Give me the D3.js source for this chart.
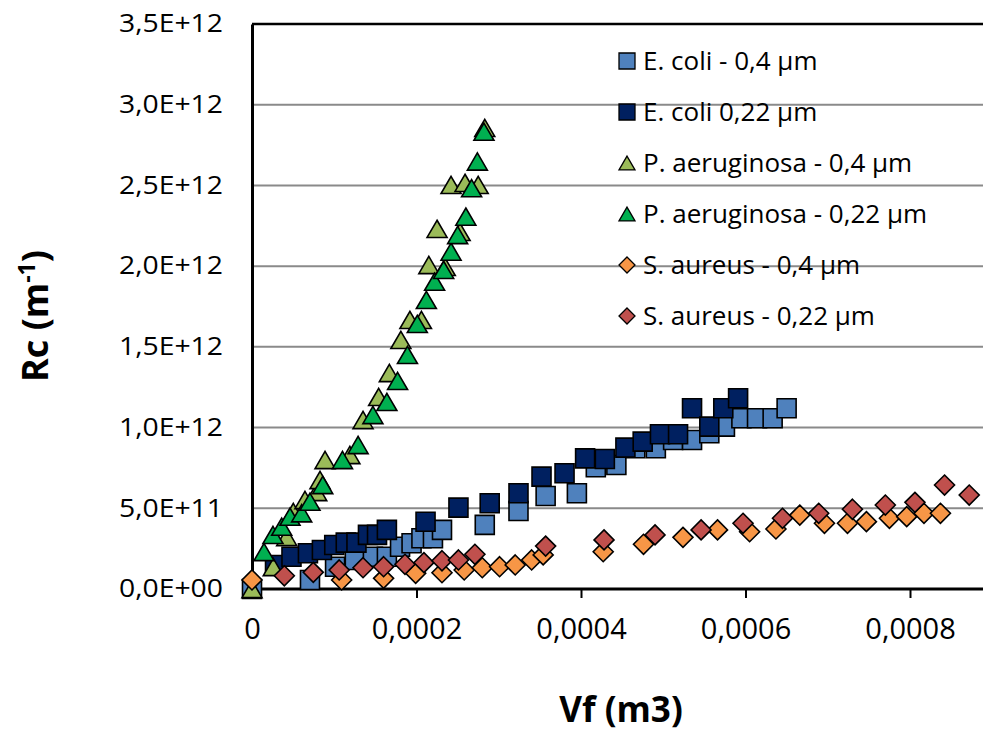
<!DOCTYPE html>
<html><head><meta charset="utf-8">
<script src="https://cdn.jsdelivr.net/npm/d3@7"></script>
<style>body{margin:0;background:#fff}svg{display:block}text{font-family:"Open Sans",sans-serif;fill:#000}</style>
</head><body><svg id="c" width="983" height="735"></svg>
<script>
// ---------- DATA ----------
const seriesNames = ["E. coli - 0,4 µm","E. coli 0,22 µm","P. aeruginosa - 0,4 µm","P. aeruginosa - 0,22 µm","S. aureus - 0,4 µm","S. aureus - 0,22 µm"];
const xTickValues = [0,0.0002,0.0004,0.0006,0.0008];
const xTickLabels = ["0","0,0002","0,0004","0,0006","0,0008"];
const yTickValues = [0,0.5e12,1.0e12,1.5e12,2.0e12,2.5e12,3.0e12,3.5e12];
const yTickLabels = ["0,0E+00","5,0E+11","1,0E+12","1,5E+12","2,0E+12","2,5E+12","3,0E+12","3,5E+12"];

const ecoli04Vf = [0,0.0000705,0.000101,0.000125,0.000147,0.000164,0.000180,0.000194,0.000206,0.000220,0.000231,0.000283,0.000324,0.000357,0.000395,0.000418,0.000443,0.000466,0.000491,0.000512,0.000535,0.000556,0.000575,0.000595,0.000614,0.000633,0.000650];
const ecoli04Rc = [0,0.056e12,0.138e12,0.180e12,0.200e12,0.200e12,0.262e12,0.283e12,0.314e12,0.314e12,0.366e12,0.397e12,0.483e12,0.576e12,0.593e12,0.754e12,0.768e12,0.872e12,0.872e12,0.923e12,0.923e12,0.965e12,1.006e12,1.058e12,1.058e12,1.058e12,1.120e12];

const ecoli022Vf = [0.000028,0.000048,0.000068,0.000085,0.000100,0.000114,0.000127,0.000141,0.000152,0.000164,0.000211,0.000251,0.000289,0.000324,0.000352,0.000380,0.000405,0.000429,0.000454,0.000475,0.000496,0.000518,0.000535,0.000556,0.000573,0.000591];
const ecoli022Rc = [0.149e12,0.200e12,0.221e12,0.242e12,0.273e12,0.287e12,0.287e12,0.335e12,0.335e12,0.366e12,0.417e12,0.504e12,0.531e12,0.593e12,0.696e12,0.717e12,0.809e12,0.805e12,0.876e12,0.913e12,0.959e12,0.959e12,1.120e12,1.006e12,1.120e12,1.182e12];

const paer04Vf = [0,0.0000259,0.0000422,0.0000502,0.0000644,0.0000787,0.0000827,0.0000888,0.000119,0.000135,0.000154,0.000167,0.000181,0.000192,0.000206,0.000215,0.000225,0.000235,0.000242,0.000253,0.000259,0.000275,0.000283];
const paer04Rc = [0,0.136e12,0.322e12,0.477e12,0.551e12,0.601e12,0.675e12,0.799e12,0.830e12,1.047e12,1.190e12,1.338e12,1.543e12,1.667e12,1.667e12,2.007e12,2.231e12,1.995e12,2.503e12,2.212e12,2.516e12,2.503e12,2.856e12];

const paer022Vf = [0.0000146,0.0000255,0.0000361,0.0000462,0.0000604,0.0000705,0.000086,0.000110,0.000129,0.000147,0.000164,0.000177,0.000189,0.000201,0.000212,0.000222,0.000233,0.000242,0.000250,0.000260,0.000267,0.000274,0.000282];
const paer022Rc = [0.229e12,0.335e12,0.386e12,0.448e12,0.469e12,0.541e12,0.644e12,0.799e12,0.892e12,1.078e12,1.159e12,1.289e12,1.450e12,1.642e12,1.791e12,1.904e12,1.977e12,2.090e12,2.193e12,2.307e12,2.483e12,2.648e12,2.833e12];

const saur04Vf = [0,0.000109,0.000160,0.000199,0.000231,0.000258,0.000280,0.000301,0.000320,0.000340,0.000354,0.000427,0.000476,0.000524,0.000566,0.000605,0.000637,0.000666,0.000696,0.000724,0.000747,0.000775,0.000796,0.000817,0.000837];
const saur04Rc = [0.056e12,0.056e12,0.066e12,0.097e12,0.101e12,0.118e12,0.132e12,0.138e12,0.149e12,0.180e12,0.211e12,0.231e12,0.277e12,0.320e12,0.366e12,0.355e12,0.372e12,0.458e12,0.407e12,0.407e12,0.417e12,0.438e12,0.448e12,0.469e12,0.469e12];

const saur022Vf = [0.0000393,0.0000745,0.000106,0.000135,0.000160,0.000186,0.000209,0.000231,0.000251,0.000271,0.000357,0.000428,0.000490,0.000546,0.000597,0.000645,0.000689,0.000730,0.000770,0.000806,0.000842,0.000872];
const saur022Rc = [0.082e12,0.103e12,0.118e12,0.132e12,0.138e12,0.153e12,0.163e12,0.175e12,0.180e12,0.215e12,0.266e12,0.304e12,0.335e12,0.366e12,0.407e12,0.438e12,0.469e12,0.494e12,0.520e12,0.537e12,0.644e12,0.582e12];

// ---------- STYLE ----------
const seriesColors = ["#4F81BD","#002060","#9BBB59","#00B050","#F79646","#C0504D"];
const seriesShapes = ["square","square","triangle","triangle","diamond","diamond"];
const seriesX = [ecoli04Vf, ecoli022Vf, paer04Vf, paer022Vf, saur04Vf, saur022Vf];
const seriesY = [ecoli04Rc, ecoli022Rc, paer04Rc, paer022Rc, saur04Rc, saur022Rc];

const W = 983, H = 735;
const pLeft = 252, pTop = 24, pBottom = 589;
const svg = d3.select("#c");

const x = d3.scaleLinear().domain([0, 0.001]).range([pLeft, pLeft + 822.5]);
const y = d3.scaleLinear().domain([0, 3.5e12]).range([pBottom, pTop]);

// custom symbol types (size = full width squared)
const shapes = {
  square: { draw(ctx, s) { const r = Math.sqrt(s) / 2; ctx.rect(-r, -r, 2 * r, 2 * r); } },
  diamond: { draw(ctx, s) { const r = Math.sqrt(s) / 2; ctx.moveTo(0, -r); ctx.lineTo(r, 0); ctx.lineTo(0, r); ctx.lineTo(-r, 0); ctx.closePath(); } },
  triangle: { draw(ctx, s) { const w = Math.sqrt(s), h = w * 0.86; ctx.moveTo(0, -h / 2); ctx.lineTo(w / 2, h / 2); ctx.lineTo(-w / 2, h / 2); ctx.closePath(); } }
};
const markerSize = { square: 19, diamond: 20, triangle: 20 };

// gridlines
svg.append("g").selectAll("line").data(yTickValues.slice(1, -1)).join("line")
  .attr("x1", pLeft).attr("x2", W).attr("y1", d => y(d)).attr("y2", d => y(d))
  .attr("stroke", "#8a8a8a").attr("stroke-width", 2);

// top border
svg.append("line").attr("x1", pLeft).attr("x2", W).attr("y1", pTop).attr("y2", pTop)
  .attr("stroke", "#000").attr("stroke-width", 2.5);

// x axis
const xAxis = svg.append("g").attr("transform", `translate(0,${pBottom})`)
  .call(d3.axisBottom(x).tickValues(xTickValues).tickFormat((d, i) => xTickLabels[i]).tickSize(9).tickSizeOuter(0).tickPadding(20));
xAxis.select(".domain").attr("d", `M${pLeft},0H${W}`).attr("stroke", "#000").attr("stroke-width", 3);
xAxis.selectAll(".tick line").attr("stroke", "#000").attr("stroke-width", 2);
xAxis.selectAll(".tick text").attr("font-size", 29).attr("font-family", "Open Sans");

// y axis
const yAxis = svg.append("g").attr("transform", `translate(${pLeft},0)`)
  .call(d3.axisLeft(y).tickValues(yTickValues).tickFormat((d, i) => yTickLabels[i]).tickSize(0).tickPadding(29));
yAxis.select(".domain").attr("stroke", "#000").attr("stroke-width", 3);
yAxis.selectAll(".tick text").attr("font-size", 26).attr("font-family", "Open Sans").attr("dy", "0.3em")
  .attr("textLength", 104).attr("lengthAdjust", "spacingAndGlyphs");

// axis titles
svg.append("text").attr("x", 621).attr("y", 722).attr("text-anchor", "middle")
  .attr("font-size", 35).attr("font-weight", "bold").text("Vf (m3)");
const yt = svg.append("text").attr("transform", "translate(48,316) rotate(-90)").attr("text-anchor", "middle")
  .attr("font-size", 36).attr("font-weight", "bold");
yt.append("tspan").text("Rc (m");
yt.append("tspan").attr("font-size", 23).attr("dy", -13).text("-1");
yt.append("tspan").attr("dy", 13).text(")");

// markers
seriesNames.forEach((name, si) => {
  const shp = seriesShapes[si], sz = markerSize[shp];
  const sym = d3.symbol().type(shapes[shp]).size(sz * sz);
  svg.append("g").selectAll("path").data(d3.range(seriesX[si].length)).join("path")
    .attr("transform", i => `translate(${x(seriesX[si][i])},${y(seriesY[si][i])})`)
    .attr("d", sym).attr("fill", seriesColors[si]).attr("stroke", "#000").attr("stroke-width", 1.6);
});

// legend
const lg = svg.append("g").selectAll("g").data(seriesNames).join("g")
  .attr("transform", (d, i) => `translate(627,${61 + i * 51})`);
lg.append("path").attr("d", (d, i) => d3.symbol().type(shapes[seriesShapes[i]]).size(16 * 16)())
  .attr("fill", (d, i) => seriesColors[i]).attr("stroke", "#000").attr("stroke-width", 1.3);
lg.append("text").attr("x", 16).attr("dy", "0.36em").attr("font-size", 26).text(d => d);
</script></body></html>
